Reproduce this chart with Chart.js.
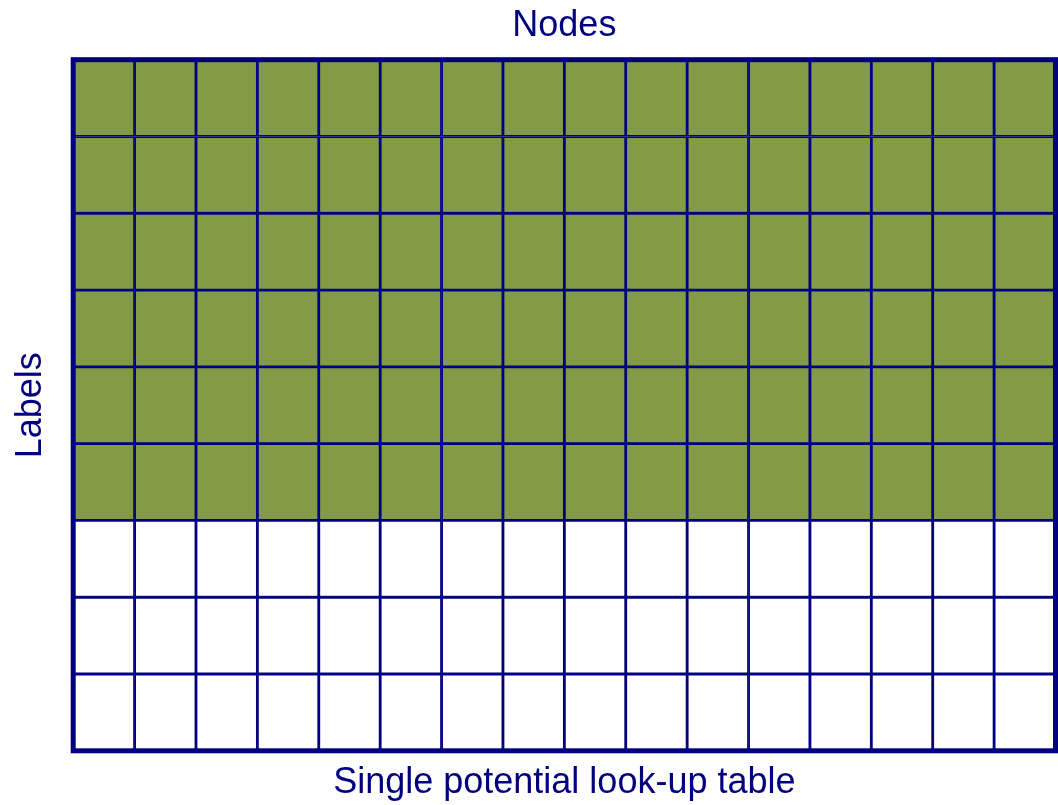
<!DOCTYPE html>
<html>
<head>
<meta charset="utf-8">
<script src="https://cdn.jsdelivr.net/npm/chart.js@4"></script>
<style>
  html, body { margin: 0; padding: 0; background: #fff; }
  #wrap { width: 1058px; height: 805px; position: relative; }
</style>
</head>
<body>
<div id="wrap"><canvas id="lut"></canvas></div>
<script>
// columns = nodes, stacked rows = labels (bottom row first)
const nodes = ["1", "2", "3", "4", "5", "6", "7", "8", "9", "10", "11", "12", "13", "14", "15", "16"];
const labelRows = ["L1", "L2", "L3", "L4", "L5", "L6", "L7", "L8", "L9"];
const rowHeight = [1, 1, 1, 1, 1, 1, 1, 1, 1];
const rowFilled = [0, 0, 0, 1, 1, 1, 1, 1, 1];

const navy = "#000080";
const green = "#849b45";
const font = "'Liberation Sans', Arial, Helvetica, sans-serif";

const outerBox = {
  id: "outerBox",
  afterDatasetsDraw(chart) {
    const { ctx, chartArea: a } = chart;
    ctx.save();
    ctx.strokeStyle = navy;
    ctx.lineWidth = 5;
    ctx.strokeRect(a.left, a.top, a.right - a.left, a.bottom - a.top);
    ctx.restore();
  }
};

const datasets = labelRows.map((lab, i) => ({
  label: lab,
  data: nodes.map(() => rowHeight[i]),
  backgroundColor: rowFilled[i] ? green : "#ffffff",
  borderColor: navy,
  borderWidth: 1.75,
  borderSkipped: false,
  barPercentage: 1,
  categoryPercentage: 1
}));

const axisTitle = (text, padding) => ({
  display: true,
  text,
  color: navy,
  font: { family: font, size: 36 },
  padding
});

new Chart(document.getElementById("lut"), {
  type: "bar",
  data: { labels: nodes, datasets },
  options: {
    responsive: true,
    maintainAspectRatio: false,
    animation: false,
    layout: { padding: { left: 0, right: 2.5, top: 0, bottom: 0 } },
    plugins: {
      legend: { display: false },
      tooltip: { enabled: false }
    },
    scales: {
      x: {
        stacked: true,
        position: "bottom",
        grid: { display: false, drawTicks: false },
        border: { display: false },
        ticks: { display: false },
        title: axisTitle("Single potential look-up table", { top: 11, bottom: 0 })
      },
      xTop: {
        type: "category",
        labels: nodes,
        position: "top",
        grid: { display: false, drawTicks: false },
        border: { display: false },
        ticks: { display: false },
        title: axisTitle("Nodes", { top: 4, bottom: 12.5 })
      },
      y: {
        stacked: true,
        min: 0,
        max: labelRows.length,
        grid: { display: false, drawTicks: false },
        border: { display: false },
        ticks: { display: false },
        title: axisTitle("Labels", { top: 9, bottom: 21 })
      }
    }
  },
  plugins: [outerBox]
});
</script>
</body>
</html>
